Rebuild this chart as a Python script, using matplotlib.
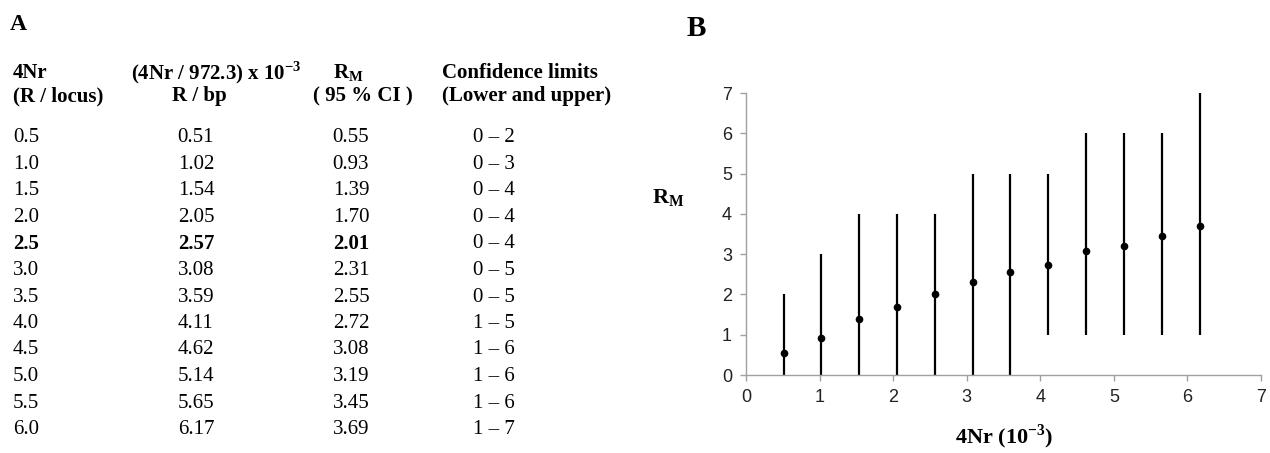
import matplotlib
matplotlib.use("Agg")
import matplotlib.pyplot as plt

# table / plot data
nr_locus = ["0.5", "1.0", "1.5", "2.0", "2.5", "3.0", "3.5", "4.0", "4.5", "5.0", "5.5", "6.0"]
r_bp = [0.51, 1.02, 1.54, 2.05, 2.57, 3.08, 3.59, 4.11, 4.62, 5.14, 5.65, 6.17]
r_m = [0.55, 0.93, 1.39, 1.70, 2.01, 2.31, 2.55, 2.72, 3.08, 3.19, 3.45, 3.69]
ci_lower = [0, 0, 0, 0, 0, 0, 0, 1, 1, 1, 1, 1]
ci_upper = [2, 3, 4, 4, 4, 5, 5, 5, 6, 6, 6, 7]
bold_row = 4  # the 2.5 row is set in bold

plt.rcParams["font.family"] = "Liberation Serif"
plt.rcParams["mathtext.fontset"] = "custom"
plt.rcParams["mathtext.rm"] = "Liberation Serif"
plt.rcParams["mathtext.bf"] = "Liberation Serif:bold"

W, H = 1270, 453
fig = plt.figure(figsize=(W / 100, H / 100), dpi=100)


def px(x, y):
    # pixel position -> figure fraction
    return x / W, 1 - y / H


def put(x, y, s, ha="center", size=15, weight="normal"):
    fig.text(*px(x, y), s, ha=ha, va="center", fontsize=size, fontweight=weight)


# ---- panel A: table ----
put(10, 25, "A", ha="left", size=17, weight="bold")

put(13, 73, "4Nr", ha="left", weight="bold")
put(13, 96, "(R / locus)", ha="left", weight="bold")
put(216, 73, r"(4Nr / 972.3) x 10$^{\mathbf{-3}}$", weight="bold")
put(199, 96, "R / bp", weight="bold")
put(348, 73, r"R$_{\mathbf{M}}$", weight="bold")
put(363, 96, "( 95 % CI )", weight="bold")
put(520, 73, "Confidence limits", weight="bold")
put(527, 96, "(Lower and upper)", weight="bold")

row0, step = 138, 26.5
for i in range(len(nr_locus)):
    y = row0 + i * step
    w = "bold" if i == bold_row else "normal"
    put(13, y, nr_locus[i], ha="left", weight=w)
    put(196, y, f"{r_bp[i]:.2f}", weight=w)
    put(351, y, f"{r_m[i]:.2f}", weight=w)
    put(494, y, f"{ci_lower[i]} \u2013 {ci_upper[i]}")

# ---- panel B: R_M vs 4Nr with confidence limits ----
put(696, 28, "B", size=21, weight="bold")

ax = fig.add_axes([746 / W, 1 - 375 / H, (1261 - 746) / W, (375 - 93) / H])
ax.vlines(r_bp, ci_lower, ci_upper, color="black", lw=1.6)
ax.plot(r_bp, r_m, "o", color="black", ms=4.5, ls="none")

ax.set_xlim(0, 7)
ax.set_ylim(0, 7)
ax.set_xticks(range(8))
ax.set_yticks(range(8))
for s in ["top", "right"]:
    ax.spines[s].set_visible(False)
for s in ["left", "bottom"]:
    ax.spines[s].set_color("#a0a0a0")
    ax.spines[s].set_linewidth(1.0)
ax.tick_params(direction="out", length=4, width=1.0, color="#a0a0a0",
               labelsize=13, pad=6)
for lab in ax.get_xticklabels() + ax.get_yticklabels():
    lab.set_fontfamily("Liberation Sans")
    lab.set_color("#222222")

put(668, 198, r"R$_{\mathbf{M}}$", size=16, weight="bold")
put(1004, 437, r"4Nr (10$^{\mathbf{-3}}$)", size=16, weight="bold")

fig.savefig("out.png", dpi=100)
